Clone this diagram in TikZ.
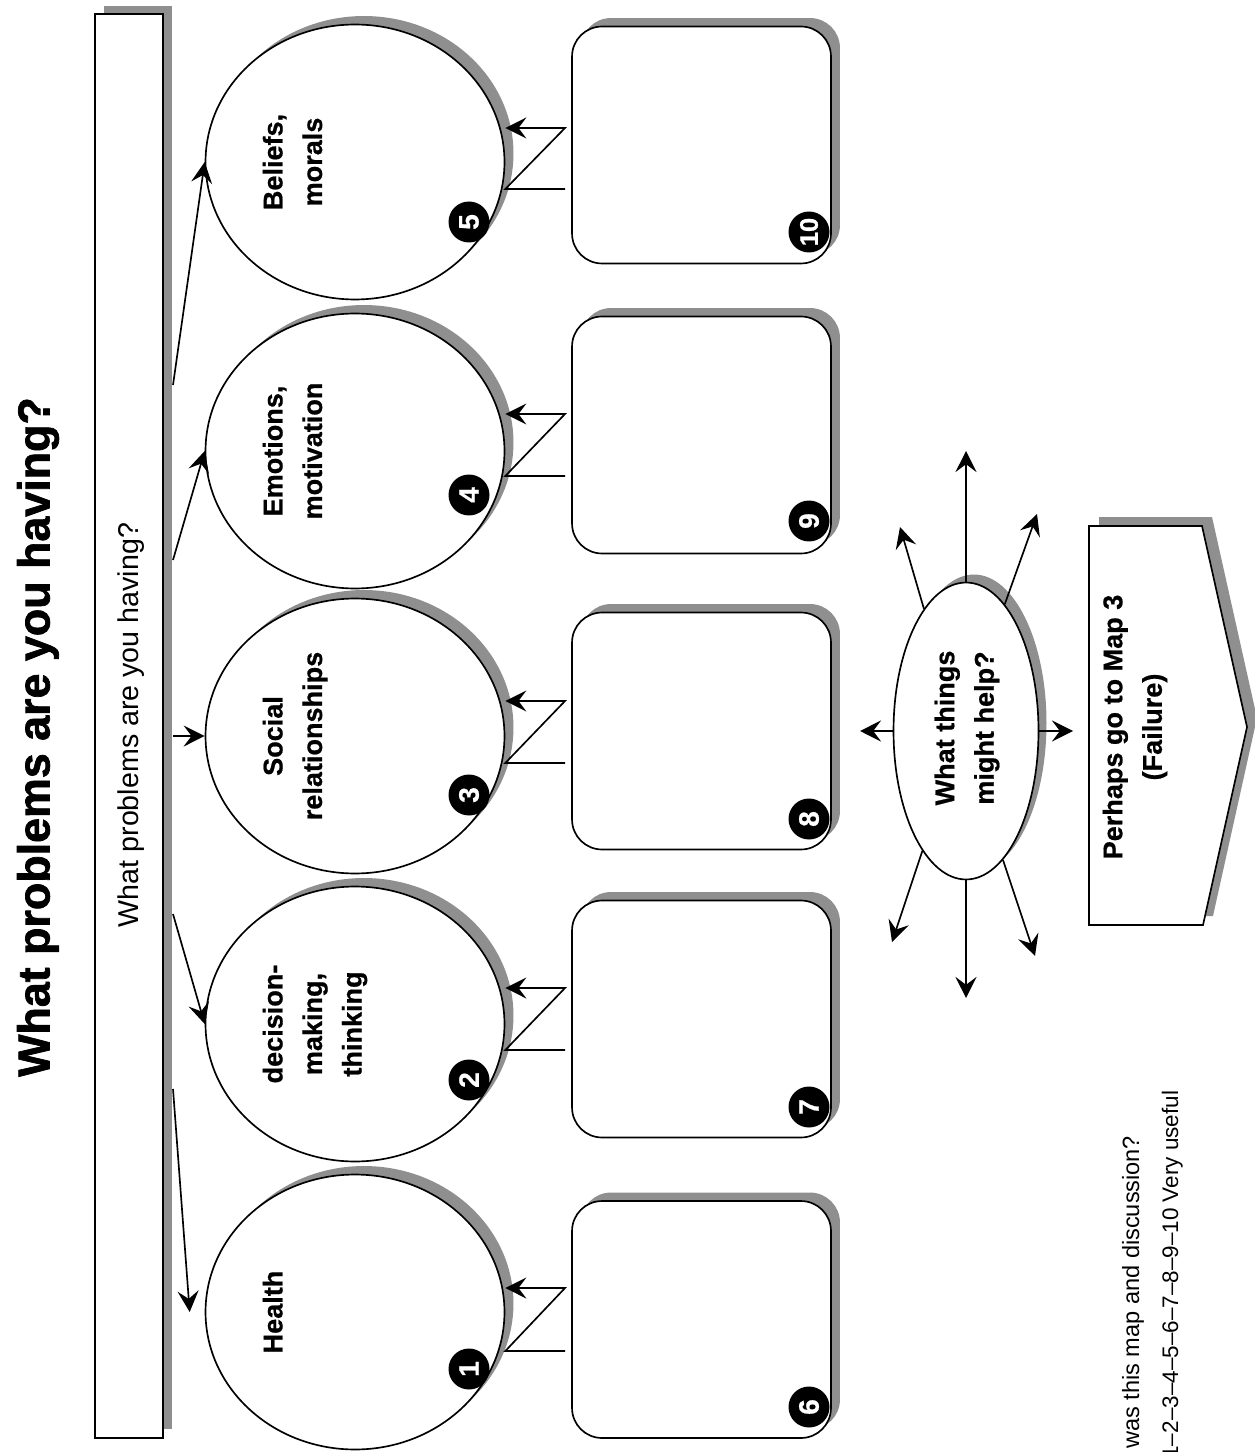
\documentclass[tikz,border=0pt]{standalone}
\usepackage{fontspec}
\setmainfont{Liberation Sans}
\newfontfamily\heavyfont{Liberation Sans}[BoldFeatures={FakeBold=1.6}]
\newfontfamily\medfont{Liberation Sans}[BoldFeatures={FakeBold=0.7}]
\usetikzlibrary{arrows.meta,shapes.geometric,shadows,calc}
\definecolor{shadowgray}{gray}{0.56}
\begin{document}
\begin{tikzpicture}[x=0.02cm, y=-0.02cm, line width=0.95pt,
  shd/.style={drop shadow={shadow xshift=0.18cm, shadow yshift=0.17cm, opacity=1, fill=shadowgray}},
  circ/.style={ellipse, draw, fill=white, minimum width=5.98cm, minimum height=5.5cm, inner sep=0pt, shd},
  sqbox/.style={rectangle, rounded corners=0.6cm, draw, fill=white, minimum width=5.18cm, minimum height=4.74cm, inner sep=0pt, shd},
  badge/.style={circle, fill=black, minimum size=0.82cm, inner sep=0pt, text=white, font=\medfont\bfseries\fontsize{16}{16}\selectfont, rotate=90},
  lbl/.style={rotate=90, align=center, anchor=north, inner sep=0pt, font=\medfont\bfseries\fontsize{15.4}{22.5}\selectfont},
  arr/.style={-{Stealth[length=12pt,width=12pt,inset=4.5pt]}}]
\useasboundingbox (0,0) rectangle (1254,1452);

% title
\node[rotate=90, inner sep=0pt, font=\heavyfont\bfseries\fontsize{25.5}{30}\selectfont] (title) at (38,737) {What problems are you having?};

% bar
\node[rectangle, draw, fill=white, minimum width=1.36cm, minimum height=28.48cm, inner sep=0pt, shd] (bar) at (129,726) {};
\node[rotate=90, inner sep=0pt, font=\fontsize{16.3}{18}\selectfont] (bartxt) at (131,725) {What problems are you having?};

% circles
\node[circ] (c5) at (355,162) {};
\node[circ] (c4) at (355,451) {};
\node[circ] (c3) at (355,736) {};
\node[circ] (c2) at (355,1024) {};
\node[circ] (c1) at (355,1312) {};

\node[lbl] (l5) at (262,162) {Beliefs,\\morals};
\node[lbl] (l4) at (262,451) {Emotions,\\motivation};
\node[lbl] (l3) at (262,736) {Social\\relationships};
\node[lbl] (l2) at (262,1024) {decision-\\making,\\thinking};
\node[lbl] (l1) at (262,1312) {Health};

\node[badge] (n5) at (469,222) {5};
\node[badge] (n4) at (469,495) {4};
\node[badge] (n3) at (469,795) {3};
\node[badge] (n2) at (469,1080) {2};
\node[badge] (n1) at (469,1369) {1};

% boxes
\node[sqbox] (b10) at (701.5,145) {};
\node[sqbox] (b9) at (701.5,435) {};
\node[sqbox] (b8) at (701.5,731) {};
\node[sqbox] (b7) at (701.5,1019) {};
\node[sqbox] (b6) at (701.5,1319.5) {};

\node[badge] (n10) at (809,232) {\fontsize{14.5}{14.5}\selectfont 10};
\node[badge] (n9) at (809,521) {9};
\node[badge] (n8) at (809,819) {8};
\node[badge] (n7) at (809,1107) {7};
\node[badge] (n6) at (809,1407) {6};

% arrows from bar to circles
\coordinate (s5) at (173,385);
\coordinate (s4) at (173,560);
\coordinate (s3) at (173,736);
\coordinate (s2) at (173,914);
\coordinate (s1) at (173,1089);
\draw[arr] (s5) -- (c5.west);
\draw[arr] (s4) -- (c4.west);
\draw[arr] (s3) -- (c3.west);
\draw[arr] (s2) -- (c2.west);
\draw[arr] (s1) -- ([xshift=-0.3cm]c1.west);

% Z connectors from boxes to circles
\coordinate (zu5) at (565,128);  \coordinate (zl5) at (565,189);
\coordinate (zu4) at (565,414);  \coordinate (zl4) at (565,476);
\coordinate (zu3) at (565,701);  \coordinate (zl3) at (565,763);
\coordinate (zu2) at (565,988);  \coordinate (zl2) at (565,1050);
\coordinate (zu1) at (565,1288); \coordinate (zl1) at (565,1351);
\foreach \i in {1,...,5}{
  \draw[arr] (zl\i) -- (zl\i -| c\i.east) -- (zu\i) -- (zu\i -| c\i.east);
}

% ellipse
\node[ellipse, draw, fill=white, minimum width=2.9cm, minimum height=5.94cm, inner sep=0pt,
  drop shadow={shadow xshift=0.16cm, shadow yshift=0.16cm, opacity=1, fill=shadowgray}] (e) at (966,731) {};
\node[lbl, anchor=center] (etxt) at (967,728) {What things\\might help?};

\coordinate (t1) at (966,451);
\coordinate (t2) at (966,998);
\coordinate (t3) at (860,731);
\coordinate (t4) at (1073,731);
\coordinate (t5) at (900,527);
\coordinate (t6) at (1037,514);
\coordinate (t7) at (892,942);
\coordinate (t8) at (1035,956);
\draw[arr] (e.north) -- (t1);
\draw[arr] (e.south) -- (t2);
\draw[arr] (e.west) -- (t3);
\draw[arr] (e.east) -- (t4);
\draw[arr] (e.109) -- (t5);
\draw[arr] (e.73) -- (t6);
\draw[arr] (e.250) -- (t7);
\draw[arr] (e.286) -- (t8);

% pentagon arrow
\coordinate (p1) at (1089,526);
\coordinate (p2) at (1202,526);
\coordinate (p3) at (1247,727);
\coordinate (p4) at (1203,925);
\coordinate (p5) at (1089,925);
\fill[shadowgray] ([shift={(10,-9)}]p1) -- ([shift={(10,-9)}]p2) -- ([shift={(10,-9)}]p3) -- ([shift={(10,-9)}]p4) -- ([shift={(10,-9)}]p5) -- cycle;
\draw[fill=white] (p1) -- (p2) -- (p3) -- (p4) -- (p5) -- cycle;
\node[lbl, anchor=center] (ptxt) at (1135,727) {Perhaps go to Map 3\\(Failure)};

% bottom text
\node[rotate=90, anchor=base east, inner sep=0pt, font=\fontsize{13.4}{15}\selectfont] (q1) at (1139,1135) {was this map and discussion?};
\node[rotate=90, anchor=base east, inner sep=0pt, font=\fontsize{12.8}{15}\selectfont] (q2) at (1178,1090) {1\textendash2\textendash3\textendash4\textendash5\textendash6\textendash7\textendash8\textendash9\textendash10 Very useful};
\end{tikzpicture}
\end{document}
